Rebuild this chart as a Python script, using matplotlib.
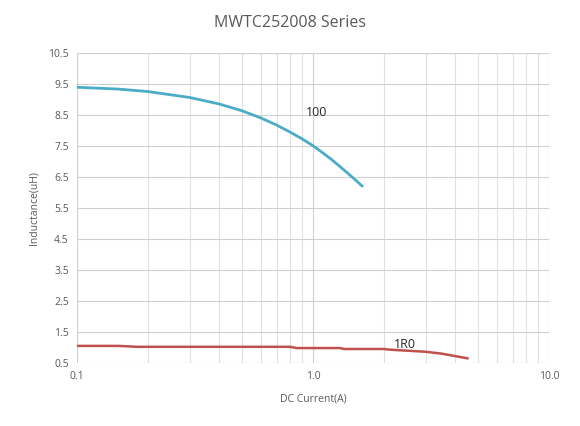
import matplotlib
matplotlib.use("Agg")
import matplotlib.pyplot as plt
from matplotlib.ticker import FixedLocator, LogLocator, NullFormatter

# inductance vs DC bias current for two parts of the series
current_100 = [0.1, 0.15, 0.2, 0.3, 0.4, 0.5, 0.6, 0.7, 0.8, 0.9, 1.0, 1.1, 1.2, 1.3, 1.4, 1.5, 1.61]
induct_100 = [9.39, 9.33, 9.25, 9.06, 8.85, 8.63, 8.40, 8.17, 7.94, 7.72, 7.50, 7.27, 7.05, 6.83, 6.62, 6.42, 6.21]

current_1r0 = [0.1, 0.15, 0.18, 0.5, 0.8, 0.85, 1.3, 1.35, 2.0, 2.1, 3.0, 3.5, 4.0, 4.5]
induct_1r0 = [1.05, 1.05, 1.02, 1.02, 1.02, 0.98, 0.98, 0.95, 0.95, 0.93, 0.86, 0.8, 0.72, 0.65]

y_ticks = [0.5 + i for i in range(11)]
x_ticks = [0.1, 1.0, 10.0]

plt.rcParams['font.family'] = ['Open Sans', 'DejaVu Sans']

fig = plt.figure(figsize=(5.8, 4.26), dpi=100)
ax = fig.add_axes([0.133, 0.148, 0.814, 0.728])

ax.plot(current_100, induct_100, color='#4bacc6', lw=2.0, solid_joinstyle='round')
ax.plot(current_1r0, induct_1r0, color='#c0504d', lw=1.8, solid_joinstyle='round')

ax.set_xscale('log')
ax.set_xlim(0.1, 10)
ax.set_ylim(0.5, 10.5)
ax.xaxis.set_major_locator(FixedLocator(x_ticks))
ax.set_xticklabels([f"{v:.1f}" for v in x_ticks])
ax.xaxis.set_minor_locator(LogLocator(base=10, subs=range(2, 10)))
ax.xaxis.set_minor_formatter(NullFormatter())
ax.set_yticks(y_ticks)
ax.set_yticklabels([f"{v:.1f}" for v in y_ticks])

ax.grid(True, which='major', color='#d0d0d0', lw=0.8)
ax.grid(True, which='minor', axis='x', color='#e0e0e0', lw=0.8)
for s in ax.spines.values():
    s.set_visible(False)
ax.tick_params(which='both', length=0, labelsize=7.5, labelcolor='#595959', pad=6)

ax.text(1.03, 8.56, "100", fontsize=9, color='#262626', ha='center', va='center')
ax.text(2.45, 1.1, "1R0", fontsize=9, color='#262626', ha='center', va='center')

ax.set_xlabel("DC Current(A)", fontsize=7.5, color='#595959', labelpad=8)
ax.set_ylabel("Inductance(uH)", fontsize=7.5, color='#595959', labelpad=6)
fig.suptitle("MWTC252008 Series", fontsize=11.5, color='#595959', y=0.965)

fig.savefig("out.png", dpi=100)
